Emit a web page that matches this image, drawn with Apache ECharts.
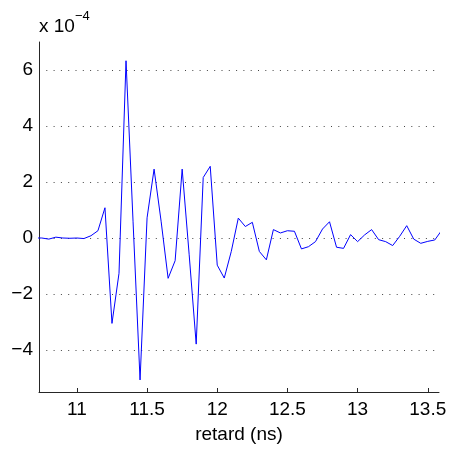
<!DOCTYPE html>
<html>
<head>
<meta charset="utf-8">
<script src="https://cdn.jsdelivr.net/npm/echarts@6/dist/echarts.min.js"></script>
<style>
html,body{margin:0;padding:0;background:#fff;}
#chart{width:450px;height:452px;}
</style>
</head>
<body>
<div id="chart"></div>
<script>
// time in ns
var times = [10.70, 10.75, 10.80, 10.85, 10.90, 10.95, 11.00, 11.05, 11.10, 11.15,
             11.20, 11.25, 11.30, 11.35, 11.40, 11.45, 11.50, 11.55, 11.60, 11.65,
             11.70, 11.75, 11.80, 11.85, 11.90, 11.95, 12.00, 12.05, 12.10, 12.15,
             12.20, 12.25, 12.30, 12.35, 12.40, 12.45, 12.50, 12.55, 12.60, 12.65,
             12.70, 12.75, 12.80, 12.85, 12.90, 12.95, 13.00, 13.05, 13.10, 13.15,
             13.20, 13.25, 13.30, 13.35, 13.40, 13.45, 13.50, 13.55, 13.60];
// signal values in units of 1e-4
var signal = [0.00, 0.00, -0.04, 0.03, 0.00, -0.01, 0.00, -0.02, 0.08, 0.26,
              1.08, -3.05, -1.26, 6.33, 0.60, -5.07, 0.72, 2.46, 0.60, -1.44,
              -0.81, 2.46, -0.60, -3.79, 2.16, 2.56, -0.97, -1.43, -0.48, 0.71,
              0.41, 0.56, -0.48, -0.78, 0.30, 0.18, 0.26, 0.24, -0.39, -0.31,
              -0.13, 0.32, 0.58, -0.33, -0.37, 0.12, -0.13, 0.11, 0.30, -0.06,
              -0.13, -0.27, 0.06, 0.44, -0.04, -0.19, -0.12, -0.07, 0.28];
var xTicks = [11, 11.5, 12, 12.5, 13, 13.5];
var yTicks = [-4, -2, 0, 2, 4, 6];
var xLabel = 'retard (ns)';
var expBase = 'x 10';
var expPower = '\u22124';

var FONT = "'Liberation Sans', Arial, Helvetica, sans-serif";
var data = times.map(function (t, i) { return [t, signal[i]]; });

var chart = echarts.init(document.getElementById('chart'), null, {renderer: 'canvas'});
chart.setOption({
  animation: false,
  backgroundColor: '#ffffff',
  grid: {left: 39, top: 42, right: 11, bottom: 60, containLabel: false},
  xAxis: {
    type: 'value',
    min: 10.73,
    max: 13.58,
    name: xLabel,
    nameLocation: 'middle',
    nameGap: 33,
    nameTextStyle: {fontFamily: FONT, fontSize: 19, color: '#000'},
    axisLine: {show: true, onZero: false, lineStyle: {color: '#262626', width: 1}},
    axisTick: {show: true, inside: true, length: 4, customValues: xTicks, lineStyle: {color: '#262626'}},
    axisLabel: {customValues: xTicks, fontFamily: FONT, fontSize: 19, color: '#000', margin: 8,
                formatter: function (v) { return String(v).replace('-', '\u2212'); }},
    splitLine: {show: false}
  },
  yAxis: {
    type: 'value',
    min: -5.5,
    max: 7,
    axisLine: {show: true, onZero: false, lineStyle: {color: '#262626', width: 1}},
    axisTick: {show: false, customValues: yTicks},
    axisLabel: {customValues: yTicks, fontFamily: FONT, fontSize: 19, color: '#000', margin: 6,
                formatter: function (v) { return String(v).replace('-', '\u2212'); }},
    splitLine: {show: true, lineStyle: {color: '#444', width: 1, type: [1, 6.3]}}
  },
  graphic: [
    {type: 'text', left: 39, top: 17, style: {text: expBase, font: '19px ' + FONT, fill: '#000'}},
    {type: 'text', left: 75, top: 10, style: {text: expPower, font: '13px ' + FONT, fill: '#000'}}
  ],
  series: [{
    type: 'line',
    data: data,
    showSymbol: false,
    clip: true,
    lineStyle: {color: '#0000ff', width: 1},
    itemStyle: {color: '#0000ff'}
  }]
});
</script>
</body>
</html>
